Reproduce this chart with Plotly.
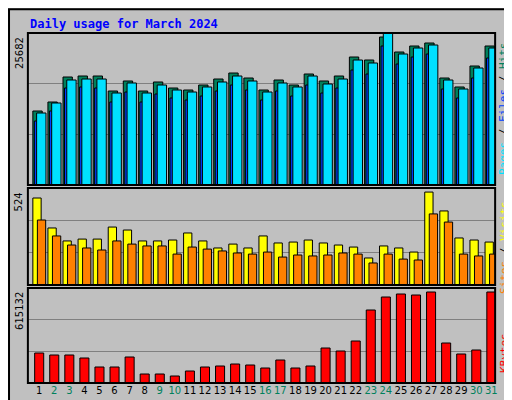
import plotly.graph_objects as go

days = list(range(1, 32))
weekend = {2, 3, 9, 10, 16, 17, 23, 24, 30, 31}
hits = [12503, 14024, 18248, 18417, 18417, 15883, 17573, 15883, 17404, 16390, 16052, 16896,
        17910, 18924, 18079, 16052, 17741, 16896, 18755, 17573, 18417, 21627, 21120, 25006,
        22472, 23486, 23993, 18079, 16559, 20106, 23486]
files = [12165, 13855, 17741, 17910, 17910, 15545, 17235, 15545, 16896, 16052, 15714, 16559,
         17404, 18417, 17573, 15714, 17235, 16559, 18417, 17066, 17910, 21120, 20613, 25682,
         22134, 23148, 23655, 17741, 16221, 19768, 23148]
pages = [10813, 12503, 16390, 16559, 16390, 14024, 15714, 14024, 15376, 14700, 14362, 15038,
         15883, 16896, 16052, 14362, 15883, 15038, 16896, 15545, 16390, 19430, 18755, 23486,
         20444, 21627, 22134, 16221, 14700, 18079, 21458]
visits = [470, 308, 238, 248, 248, 313, 297, 238, 238, 243, 281, 238, 200, 221, 200, 265,
          227, 232, 243, 227, 216, 205, 146, 211, 200, 178, 502, 400, 254, 243, 232]
sites = [351, 265, 216, 200, 189, 238, 221, 211, 211, 167, 205, 194, 184, 173, 167, 178,
         151, 162, 157, 162, 173, 167, 119, 167, 140, 135, 384, 340, 167, 157, 167]
kbytes = [194252, 181302, 181302, 161877, 103602, 103602, 168352, 58277, 58277, 45327,
          77702, 103602, 110077, 123027, 116552, 97127, 148927, 97127, 110077, 226627,
          207202, 271952, 472676, 556851, 576276, 569801, 589226, 259002, 187777, 213677, 589226]
max_top, max_mid, max_bot = 25682, 524, 615132

fig = go.Figure()
line = dict(color="black", width=1)
fig.add_bar(x=days, y=hits, offset=-0.42, width=0.62, marker=dict(color="#00805c", line=line), xaxis="x", yaxis="y")
fig.add_bar(x=days, y=pages, offset=-0.32, width=0.35, marker=dict(color="#0040ff", line=line), xaxis="x", yaxis="y")
fig.add_bar(x=days, y=files, offset=-0.17, width=0.62, marker=dict(color="#00e0ff", line=line), xaxis="x", yaxis="y")
fig.add_bar(x=days, y=visits, offset=-0.42, width=0.55, marker=dict(color="#ffff00", line=line), xaxis="x2", yaxis="y2")
fig.add_bar(x=days, y=sites, offset=-0.12, width=0.55, marker=dict(color="#ff8000", line=line), xaxis="x2", yaxis="y2")
fig.add_bar(x=days, y=kbytes, offset=-0.3, width=0.6, marker=dict(color="#ff0000", line=line), xaxis="x3", yaxis="y3")

ticktext = [f'<span style="color:{"#00805c" if d in weekend else "black"}">{d}</span>' for d in days]
xr = [0.25, 31.25]
dom_x = [20/512, 490/512]
def yax(m, dom, anchor):
    return dict(range=[0, m], domain=dom, anchor=anchor, tickvals=[m/3, 2*m/3], showticklabels=False,
                ticks="", showgrid=True, gridcolor="#808080", gridwidth=1, zeroline=False, fixedrange=True)
def xax(anchor, show):
    return dict(range=xr, domain=dom_x, anchor=anchor, tickvals=days, ticktext=ticktext,
                showticklabels=show, ticks="", showgrid=False, zeroline=False, tickangle=0,
                tickfont=dict(family="DejaVu Sans", size=10, color="black"))

fig.update_layout(
    width=512, height=400, margin=dict(l=0, r=0, t=0, b=0), showlegend=False,
    paper_bgcolor="#c0c0c0", plot_bgcolor="#c0c0c0", barmode="overlay",
    xaxis=xax("y", False), xaxis2=xax("y2", False), xaxis3=xax("y3", True),
    yaxis=yax(max_top, [1-177/400, 1-25/400], "x"),
    yaxis2=yax(max_mid, [1-277/400, 1-180/400], "x2"),
    yaxis3=yax(max_bot, [1-375/400, 1-280/400], "x3"),
)
shapes = [dict(type="rect", xref="paper", yref="paper", x0=0.002, x1=0.998, y0=0.003, y1=0.997,
               line=dict(color="black", width=2))]
for y0, y1 in [(177, 25), (277, 180), (375, 280)]:
    shapes.append(dict(type="rect", xref="paper", yref="paper", x0=dom_x[0], x1=dom_x[1],
                       y0=1-y0/400, y1=1-y1/400, line=dict(color="black", width=2)))
fig.update_layout(shapes=shapes)

mono = "DejaVu Sans Mono"
anns = [dict(text="<b>Daily usage for March 2024</b>", x=20/512, y=1-16/400, xref="paper", yref="paper",
             xanchor="left", yanchor="middle", showarrow=False, font=dict(family=mono, size=12, color="#0000ff"))]
for txt, ytop in [("25682", 27), ("524", 182), ("615132", 282)]:
    anns.append(dict(text=txt, x=11/512, y=1-ytop/400, xref="paper", yref="paper", xanchor="center",
                     yanchor="top", textangle=-90, showarrow=False, font=dict(family="DejaVu Sans", size=10, color="black")))
right = [
    ('<span style="color:#00e0ff">Pages</span><span style="color:black"> / </span><span style="color:#0040ff">Files</span><span style="color:black"> / </span><span style="color:#00805c">Hits</span>', 101),
    ('<span style="color:#ff8000">Sites</span><span style="color:black"> / </span><span style="color:#ffff00">Visits</span>', 240),
    ('<span style="color:#ff0000">KBytes</span>', 345),
]
for txt, yc in right:
    anns.append(dict(text=txt, x=499/512, y=1-yc/400, xref="paper", yref="paper", xanchor="center",
                     yanchor="middle", textangle=-90, showarrow=False, font=dict(family=mono, size=11)))
fig.update_layout(annotations=anns)
fig.write_html("out.html")
